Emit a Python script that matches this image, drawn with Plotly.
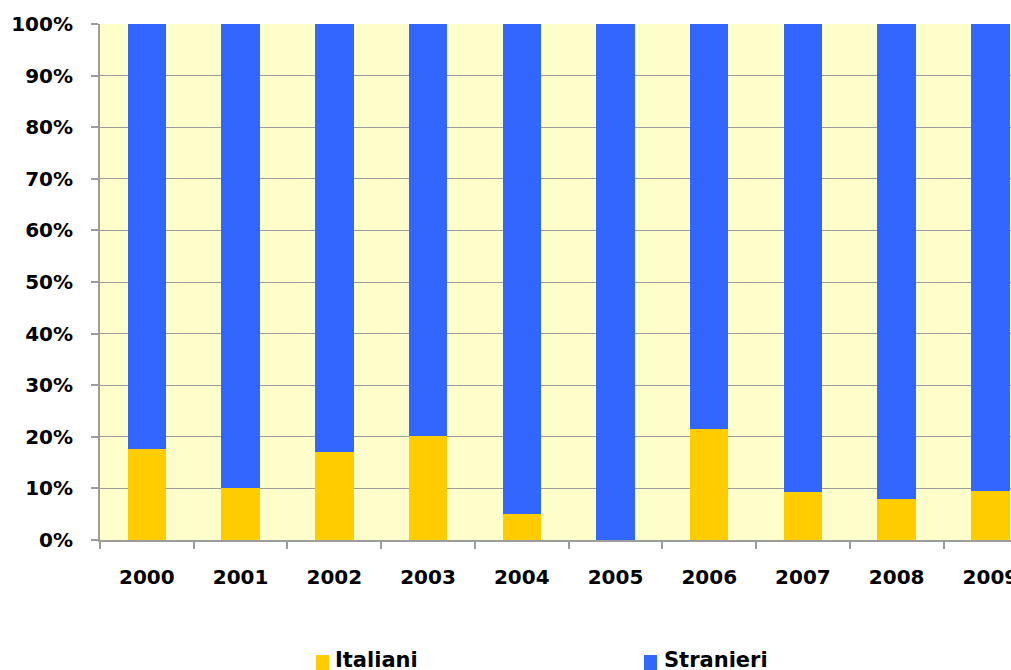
import plotly.graph_objects as go

# Quota percentuale per anno
anni = ["2000", "2001", "2002", "2003", "2004", "2005", "2006", "2007", "2008", "2009"]
italiani = [17.6, 10.1, 17.1, 20.2, 5.0, 0.0, 21.5, 9.3, 8.0, 9.5]
stranieri = [round(100 - v, 1) for v in italiani]

col_italiani = "#FFCC00"
col_stranieri = "#3366FF"
grid_col = "#9C9C9C"
font_fam = "DejaVu Sans"

fig = go.Figure()
fig.add_trace(go.Bar(x=anni, y=italiani, name="Italiani", marker_color=col_italiani,
                     marker_line_width=0, width=0.41))
fig.add_trace(go.Bar(x=anni, y=stranieri, name="Stranieri", marker_color=col_stranieri,
                     marker_line_width=0, width=0.41))

fig.update_layout(
    barmode="stack",
    width=1011, height=670,
    margin=dict(l=100, r=0, t=24, b=130, autoexpand=False),
    paper_bgcolor="white",
    plot_bgcolor="#FFFFCC",
    showlegend=False,
    font=dict(family=font_fam, color="black"),
)

fig.update_xaxes(
    type="category",
    range=[-0.5, 9.22],
    automargin=False,
    tickson="boundaries",
    ticks="outside", ticklen=7, tickcolor=grid_col, tickwidth=2,
    showgrid=False,
    showline=True, linecolor=grid_col, linewidth=2,
    tickfont=dict(size=20, family=font_fam, weight="bold"),
    ticklabelstandoff=18,
)

fig.update_yaxes(
    range=[0, 100],
    automargin=False,
    tickvals=[0, 10, 20, 30, 40, 50, 60, 70, 80, 90, 100],
    ticktext=[f"{v}%" for v in range(0, 101, 10)],
    ticks="outside", ticklen=7, tickcolor=grid_col, tickwidth=2,
    showgrid=True, gridcolor=grid_col, gridwidth=1,
    showline=True, linecolor=grid_col, linewidth=2,
    zeroline=False,
    tickfont=dict(size=20, family=font_fam, weight="bold"),
    ticklabelstandoff=14,
)

# Legenda in basso, disegnata con quadratini e testo
legenda = [("Italiani", col_italiani, 216, 233), ("Stranieri", col_stranieri, 544, 562)]
for testo, colore, xq, xt in legenda:
    fig.add_shape(type="rect", xref="paper", yref="paper",
                  xsizemode="pixel", ysizemode="pixel",
                  xanchor=0, yanchor=0,
                  x0=xq, x1=xq + 13, y0=-115, y1=-132,
                  fillcolor=colore, line_width=0)
    fig.add_annotation(text=testo, xref="paper", yref="paper", x=0, y=0,
                       xanchor="left", yanchor="top", showarrow=False,
                       xshift=xt, yshift=-106,
                       font=dict(size=21, family=font_fam, weight="bold", color="black"))

fig.write_html(
    "out.html",
    post_script="document.documentElement.style.overflow='hidden';document.body.style.overflow='hidden';document.body.style.margin='0';",
)
